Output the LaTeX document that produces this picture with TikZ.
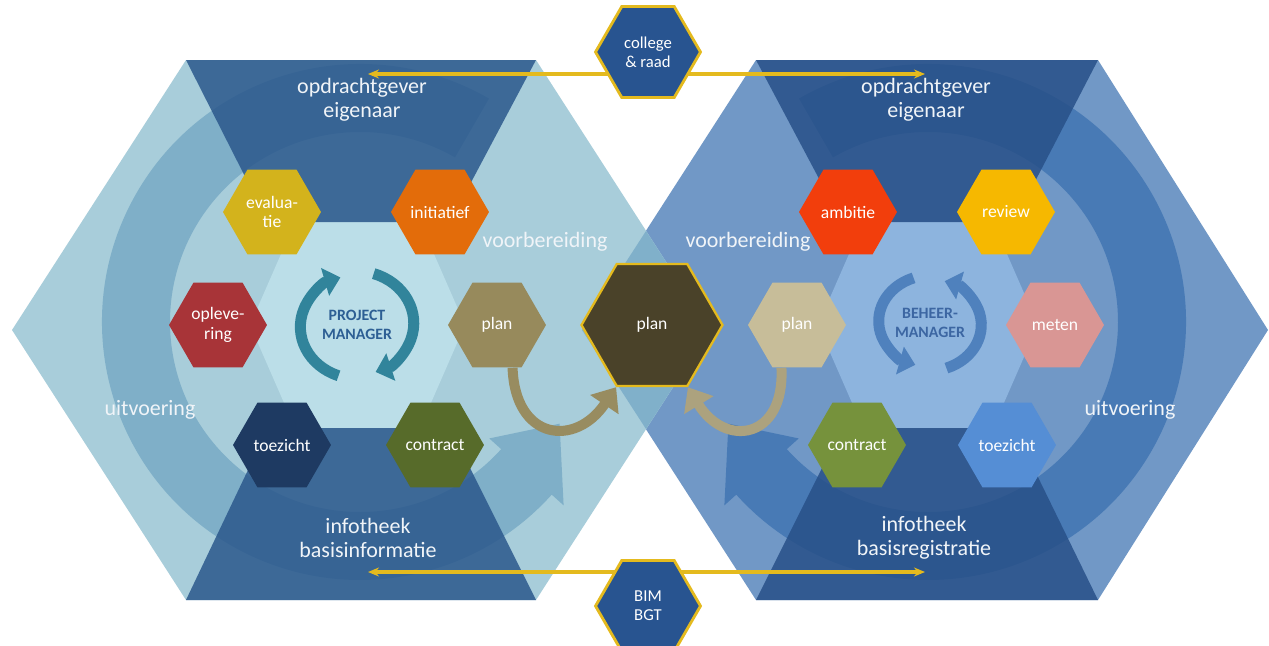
\documentclass[tikz,border=0pt]{standalone}
\usepackage{fontspec}
\setmainfont{Carlito}
\usepackage{xcolor}
\definecolor{LeftOuterColor}{RGB}{168,205,218}
\definecolor{LeftRingColor}{RGB}{127,175,200}
\definecolor{LeftInnerColor}{RGB}{187,222,232}
\definecolor{LeftBandColor}{RGB}{43,88,140}
\definecolor{RightOuterColor}{RGB}{113,152,198}
\definecolor{RightRingColor}{RGB}{72,122,181}
\definecolor{RightInnerColor}{RGB}{141,180,222}
\definecolor{RightBandColor}{RGB}{40,80,136}
\definecolor{OverlapColor}{RGB}{128,176,202}
\definecolor{LinkGold}{RGB}{228,186,30}
\definecolor{LinkBlue}{RGB}{40,84,144}
\definecolor{LabelWhite}{RGB}{240,244,248}
\definecolor{PlanDark}{RGB}{74,66,41}
\definecolor{PlanLeftColor}{RGB}{151,138,92}
\definecolor{PlanRightColor}{RGB}{199,189,153}
\definecolor{ArrowLeftColor}{RGB}{152,140,96}
\definecolor{ArrowRightColor}{RGB}{172,162,126}
\definecolor{EvalColor}{RGB}{211,179,28}
\definecolor{InitColor}{RGB}{227,108,10}
\definecolor{OplColor}{RGB}{168,52,56}
\definecolor{ToezLeftColor}{RGB}{30,58,98}
\definecolor{ContrLeftColor}{RGB}{87,107,42}
\definecolor{AmbColor}{RGB}{242,62,12}
\definecolor{ReviewColor}{RGB}{246,184,0}
\definecolor{MetenColor}{RGB}{217,150,148}
\definecolor{ContrRightColor}{RGB}{118,146,60}
\definecolor{ToezRightColor}{RGB}{85,142,213}
\definecolor{ProjectColor}{RGB}{45,95,148}
\definecolor{ProjectRing}{RGB}{49,132,155}
\definecolor{BeheerColor}{RGB}{60,102,162}
\definecolor{BeheerRing}{RGB}{79,129,189}
\usetikzlibrary{positioning, shapes.geometric, arrows.meta, calc}
\pgfdeclarelayer{front}
\pgfsetlayers{main,front}

\begin{document}
\begin{tikzpicture}[
    x=0.02cm, y=-0.02cm,
    hexbox/.style={regular polygon, regular polygon sides=6, minimum size=1.96cm, inner sep=0pt, align=center, text=white, font=\fontsize{10}{11}\selectfont},
    planhex/.style={hexbox, minimum size=2.82cm, fill=PlanDark, draw=LinkGold, line width=1.3pt},
    linkhex/.style={hexbox, minimum size=2.1cm, fill=LinkBlue, draw=LinkGold, line width=1.6pt, font=\fontsize{9.5}{11}\selectfont},
    bandtext/.style={align=center, text=LabelWhite, font=\fontsize{12.5}{13.6}\selectfont},
    phasetext/.style={text=LabelWhite, font=\fontsize{12.5}{14}\selectfont},
    managertext/.style={align=center, font=\bfseries\fontsize{9}{10.5}\selectfont},
    goldlink/.style={draw=LinkGold, line width=0.065cm, -{Stealth[length=0.22cm, width=0.18cm]}},
    cyclearrow/.style={line width=0.22cm, -{Triangle[length=0.32cm, width=0.56cm]}},
    planarrow/.style={line width=0.2cm, -{Triangle[length=0.42cm, width=0.66cm]}},
    trapez/.style={fill opacity=0.85},
]
\useasboundingbox (0,0) rectangle (1269,646);

% ============================================
% BIG HEXAGONS
% ============================================
\fill[RightOuterColor] (582,330) -- (756,60) -- (1098,60) -- (1268,330) -- (1098,600) -- (756,600) -- cycle;
\fill[LeftOuterColor] (12,330) -- (186,60) -- (536,60) -- (710,330) -- (536,600) -- (186,600) -- cycle;
\fill[OverlapColor] (582,330) -- (646,231) -- (710,330) -- (646,429) -- cycle;

% ============================================
% UITVOERING RINGS
% ============================================
\coordinate (ringL) at (360,322);
\coordinate (ringR) at (928,322);

\fill[LeftRingColor] ($(ringL)+(300:258)$) arc[start angle=300, end angle=42, radius=258]
    -- ($(ringL)+(42:274)$) -- ($(ringL)+(27:224)$) -- ($(ringL)+(42:174)$)
    -- ($(ringL)+(42:190)$) arc[start angle=42, end angle=300, radius=190] -- cycle;

\fill[RightRingColor] ($(ringR)+(240:258)$) arc[start angle=240, end angle=498, radius=258]
    -- ($(ringR)+(498:274)$) -- ($(ringR)+(513:224)$) -- ($(ringR)+(498:174)$)
    -- ($(ringR)+(498:190)$) arc[start angle=498, end angle=240, radius=190] -- cycle;

% ============================================
% INNER HEXAGONS
% ============================================
\fill[LeftInnerColor] (250,325) -- (295,222) -- (420,222) -- (465,325) -- (420,428) -- (295,428) -- cycle;
\fill[RightInnerColor] (818,325) -- (863,222) -- (993,222) -- (1038,325) -- (993,428) -- (863,428) -- cycle;

% ============================================
% BANDS (opdrachtgever / infotheek)
% ============================================
\fill[LeftBandColor, trapez] (186,60) -- (536,60) -- (450,222) -- (268,222) -- cycle;
\fill[LeftBandColor, trapez] (268,428) -- (450,428) -- (536,600) -- (186,600) -- cycle;
\fill[RightBandColor, trapez] (756,60) -- (1098,60) -- (1014,222) -- (842,222) -- cycle;
\fill[RightBandColor, trapez] (842,428) -- (1014,428) -- (1098,600) -- (756,600) -- cycle;

% ============================================
% HEXAGON STEPS
% ============================================
\begin{pgfonlayer}{front}
\node[linkhex] (college) at (648,52) {college\\\& raad};
\node[linkhex] (bim) at (648,606) {BIM\\BGT};
\node[planhex] (planC) at (652,325) {plan};

\node[hexbox, fill=EvalColor] (evalL) at (272,212) {evalua-\\tie};
\node[hexbox, fill=InitColor] (initL) at (440,212) {initiatief};
\node[hexbox, fill=OplColor] (oplL) at (218,325) {opleve-\\ring};
\node[hexbox, fill=PlanLeftColor] (planL) at (497,325) {plan};
\node[hexbox, fill=ToezLeftColor] (toezL) at (282,445) {toezicht};
\node[hexbox, fill=ContrLeftColor] (contrL) at (435,445) {contract};

\node[hexbox, fill=AmbColor] (ambR) at (848,212) {ambitie};
\node[hexbox, fill=ReviewColor] (reviewR) at (1006,212) {review};
\node[hexbox, fill=PlanRightColor] (planR) at (797,325) {plan};
\node[hexbox, fill=MetenColor] (metenR) at (1055,325) {meten};
\node[hexbox, fill=ContrRightColor] (contrR) at (857,445) {contract};
\node[hexbox, fill=ToezRightColor] (toezR) at (1007,445) {toezicht};
\end{pgfonlayer}

% ============================================
% GOLD LINKS
% ============================================
\coordinate (ownerL) at (368,74);
\coordinate (ownerR) at (925,74);
\coordinate (infoL) at (368,572);
\coordinate (infoR) at (925,572);

\draw[goldlink] (ownerL -| college) -- (ownerL);
\draw[goldlink] (ownerR -| college) -- (ownerR);
\draw[goldlink] (infoL -| bim) -- (infoL);
\draw[goldlink] (infoR -| bim) -- (infoR);

% ============================================
% PLAN ARROWS
% ============================================
\draw[planarrow, ArrowLeftColor] (planL.290) .. controls (515,440) and (575,448) .. (planC.240);
\draw[planarrow, ArrowRightColor] (planR.250) .. controls (785,440) and (725,448) .. (planC.300);

% ============================================
% LABELS
% ============================================
\node[bandtext] (ownerLtext) at (362,100) {opdrachtgever\\eigenaar};
\node[bandtext] (ownerRtext) at (926,100) {opdrachtgever\\eigenaar};
\node[bandtext] (infoLtext) at (368,538) {infotheek\\basisinformatie};
\node[bandtext] (infoRtext) at (924,538) {infotheek\\basisregistratie};

\node[phasetext] (prepL) at (545,242) {voorbereiding};
\node[phasetext] (prepR) at (748,242) {voorbereiding};
\node[phasetext] (execL) at (150,410) {uitvoering};
\node[phasetext] (execR) at (1130,410) {uitvoering};

% ============================================
% MANAGERS
% ============================================
\node[managertext, text=ProjectColor] (pm) at (357,325) {PROJECT\\MANAGER};
\node[managertext, text=BeheerColor] (bm) at (930,323) {BEHEER-\\MANAGER};

\draw[cyclearrow, ProjectRing] ($(pm)+(110:54)$) arc[start angle=110, end angle=252, x radius=58, y radius=52];
\draw[cyclearrow, ProjectRing] ($(pm)+(288:54)$) arc[start angle=288, end angle=430, x radius=58, y radius=52];

\draw[cyclearrow, BeheerRing] ($(bm)+(70:48)$) arc[start angle=70, end angle=-72, x radius=53, y radius=46];
\draw[cyclearrow, BeheerRing] ($(bm)+(250:48)$) arc[start angle=250, end angle=108, x radius=53, y radius=46];

\end{tikzpicture}
\end{document}
